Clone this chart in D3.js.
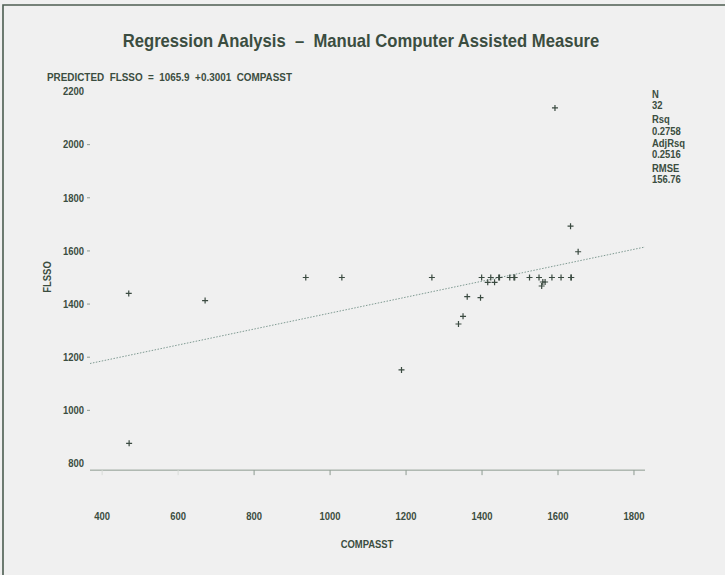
<!DOCTYPE html>
<html lang="en">
<head>
<meta charset="utf-8">
<title>Regression Analysis</title>
<script src="https://d3js.org/d3.v7.min.js"></script>
<style>
    body { margin: 0; background: #f0f0f0; }
    svg { display: block; }
    text {
        font-family: "Liberation Sans", Arial, sans-serif;
        font-weight: bold;
        fill: #3b4d40;
        white-space: pre;
    }
</style>
</head>
<body>
<div id="chart"></div>
<script>
    var WIDTH = 725, HEIGHT = 575;
    var SX = 0.9; // narrow helvetica look

    // COMPASST / FLSSO pairs
    var compasst = [470, 471, 671, 936, 1031, 1188, 1268, 1338, 1350, 1361, 1396, 1399,
        1415, 1423, 1433, 1444, 1446, 1473, 1484, 1486, 1525, 1550, 1560, 1566, 1557,
        1584, 1608, 1634, 1635, 1653, 1633, 1592];
    var flsso = [1440, 876, 1413, 1500, 1500, 1152, 1500, 1325, 1354, 1428, 1424, 1500,
        1482, 1500, 1482, 1500, 1500, 1500, 1500, 1500, 1500, 1500, 1483, 1483, 1468,
        1500, 1500, 1500, 1500, 1597, 1693, 2138];

    var xTicks = [400, 600, 800, 1000, 1200, 1400, 1600, 1800];
    var yTicks = [800, 1000, 1200, 1400, 1600, 1800, 2000, 2200];
    var intercept = 1065.9, slope = 0.3001;
    var statLabels = ["N", "32", "Rsq", "0.2758", "AdjRsq", "0.2516", "RMSE", "156.76"];

    var svg = d3.select("#chart").append("svg")
        .attr("width", WIDTH)
        .attr("height", HEIGHT);

    function tr(px, py, rot) {
        return "translate(" + px + "," + py + ")" + (rot ? " rotate(" + rot + ")" : "") + " scale(" + SX + ",1)";
    }

    // frame lines (top and left)
    svg.append("path")
        .attr("d", "M3," + HEIGHT + "V5H" + WIDTH)
        .attr("fill", "none")
        .attr("stroke", "#4d5e52")
        .attr("stroke-width", 1.6);

    var x = d3.scaleLinear().domain([368, 1829]).range([90, 645]);
    var y = d3.scaleLinear().domain([800, 2200]).range([463.5, 91.5]);
    var yBottom = 775;

    svg.append("text")
        .attr("transform", tr(361, 47))
        .attr("text-anchor", "middle")
        .style("font-size", "18.5px")
        .text("Regression Analysis  \u2013  Manual Computer Assisted Measure");

    svg.append("text")
        .attr("transform", tr(47, 81))
        .style("font-size", "11px")
        .text("PREDICTED  FLSSO  =  1065.9  +0.3001  COMPASST");

    // x axis
    svg.append("line")
        .attr("x1", x(368)).attr("x2", x(1829))
        .attr("y1", y(yBottom)).attr("y2", y(yBottom))
        .attr("stroke", "#8c9a90").attr("stroke-width", 1);

    svg.selectAll(".xtick").data(xTicks).enter().append("line")
        .attr("class", "xtick")
        .attr("x1", d => x(d)).attr("x2", d => x(d))
        .attr("y1", y(yBottom)).attr("y2", y(yBottom) + 5)
        .attr("stroke", d => d < 800 ? "#d8dcd8" : "#8c9a90");

    svg.selectAll(".xlab").data(xTicks).enter().append("text")
        .attr("class", "xlab")
        .attr("transform", d => tr(x(d), 520))
        .attr("text-anchor", "middle")
        .style("font-size", "10.5px")
        .text(d => d);

    svg.append("text")
        .attr("transform", tr(367, 548))
        .attr("text-anchor", "middle")
        .style("font-size", "10.5px")
        .text("COMPASST");

    // y axis
    svg.selectAll(".ytick").data(yTicks.filter(d => d > 800 && d < 2200)).enter().append("line")
        .attr("class", "ytick")
        .attr("x1", 87).attr("x2", 90)
        .attr("y1", d => y(d)).attr("y2", d => y(d))
        .attr("stroke", "#8c9a90");

    svg.selectAll(".ylab").data(yTicks).enter().append("text")
        .attr("class", "ylab")
        .attr("transform", d => tr(84, y(d) + 3.8))
        .attr("text-anchor", "end")
        .style("font-size", "10.5px")
        .text(d => d);

    svg.append("text")
        .attr("transform", tr(51, 277, -90))
        .attr("text-anchor", "middle")
        .style("font-size", "10.5px")
        .text("FLSSO");

    // regression line
    var line = d3.line()
        .x(d => x(d))
        .y(d => y(intercept + slope * d));
    svg.append("path")
        .attr("d", line(x.domain()))
        .attr("fill", "none")
        .attr("stroke", "#7f9a92")
        .attr("stroke-width", 1)
        .attr("stroke-dasharray", "1.5,1.5");

    // points as plus signs
    var pts = compasst.map((c, i) => [c, flsso[i]]);
    svg.selectAll(".pt").data(pts).enter().append("path")
        .attr("class", "pt")
        .attr("d", d => {
            var px = x(d[0]), py = y(d[1]);
            return "M" + (px - 3) + "," + py + "H" + (px + 3) + "M" + px + "," + (py - 3) + "V" + (py + 3);
        })
        .attr("stroke", "#3a4a40")
        .attr("stroke-width", 1.2);

    // fit statistics
    var statY = [97.5, 108.5, 123, 134.6, 146.5, 158, 171.8, 182.5];
    svg.selectAll(".stat").data(statLabels).enter().append("text")
        .attr("class", "stat")
        .attr("transform", (d, i) => tr(652, statY[i]))
        .style("font-size", "10.5px")
        .text(d => d);
</script>
</body>
</html>
